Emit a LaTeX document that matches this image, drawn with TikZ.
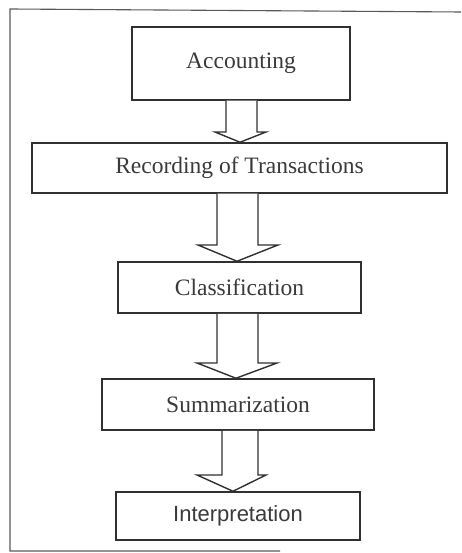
\documentclass[tikz,border=0pt]{standalone}
\usepackage{fontspec}
\setmainfont{Liberation Serif}
\newfontfamily\arialfont{Liberation Sans}
\usetikzlibrary{calc}

\definecolor{ink}{HTML}{303030}
\definecolor{textink}{HTML}{3A3A3A}

\tikzset{
  stagebox/.style={draw=ink, line width=1.5pt, fill=white, text=textink,
    inner sep=0pt, font=\fontsize{23.5}{26}\selectfont},
  blockarrow/.style={draw=ink, line width=1.4pt, fill=white, line join=miter},
  frameline/.style={draw=ink!80, line width=1.1pt}
}

% draws a hollow block arrow from the bottom of #1 to the top of #2
% #3,#4: shaft edges  #5,#6: head edges  #7: neck level  #8: tip x
\newcommand{\hollowarrow}[8]{%
  \draw[blockarrow] (#3,0 |- #1.south) -- (#3,#7) -- (#5,#7) -- (#8,0 |- #2.north)
    -- (#6,#7) -- (#4,#7) -- (#4,0 |- #1.south);
}

\begin{document}
\begin{tikzpicture}[x=1pt, y=-1pt]
  \useasboundingbox (0,0) rectangle (461,553);

  % outer frame
  \draw[frameline] (461,12) -- (10,9) -- (10,551) -- (280,551);

  % stages
  \node[stagebox, minimum width=218pt, minimum height=73pt] (acc) at (241,63.5) {Accounting};
  \node[stagebox, minimum width=415pt, minimum height=50pt] (rec) at (239.5,168) {Recording of Transactions};
  \node[stagebox, minimum width=243pt, minimum height=51pt] (cls) at (239.5,287.5) {Classification};
  \node[stagebox, minimum width=272pt, minimum height=51pt] (sum) at (238,404.5) {Summarization};
  \node[stagebox, minimum width=244pt, minimum height=48pt, font=\arialfont\fontsize{22}{25}\selectfont] (int) at (238,516) {Interpretation};

  % flow arrows
  \hollowarrow{acc}{rec}{226}{257}{215}{266}{132}{240}
  \hollowarrow{rec}{cls}{217}{258}{198}{278}{245}{237}
  \hollowarrow{cls}{sum}{217}{258}{197}{277}{363}{236}
  \hollowarrow{sum}{int}{222}{258}{197}{266}{475}{233}
\end{tikzpicture}
\end{document}
